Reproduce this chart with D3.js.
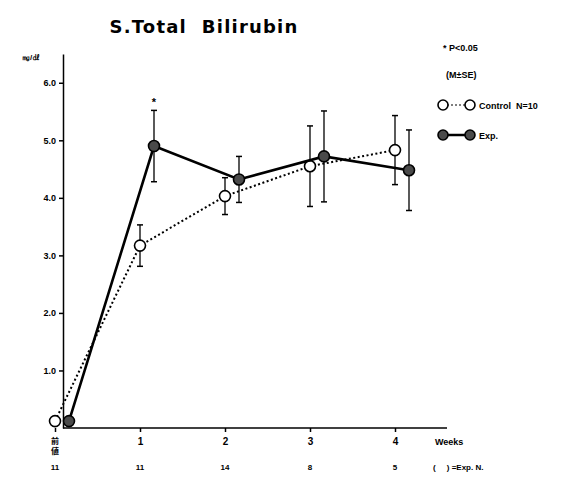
<!DOCTYPE html>
<html>
<head>
<meta charset="utf-8">
<script src="https://cdn.jsdelivr.net/npm/d3@7"></script>
<style>
  body { margin: 0; background: #fff; }
  svg { font-family: "Liberation Sans", Arial, sans-serif; font-weight: bold; }
</style>
</head>
<body>
<div id="chart"></div>
<script>
// set width/height
const WIDTH = 563;
const HEIGHT = 480;
const AXIS_X = 63;
const AXIS_Y = 428;
const DODGE = 14;

// data
const weeks = [0, 1, 2, 3, 4];
const weekLabels = ["", "1", "2", "3", "4"];
const preLabel = ["前", "値"];
const expN = ["11", "11", "14", "8", "5"];
const controlMean = [0.12, 3.17, 4.03, 4.55, 4.83];
const controlSE = [0.05, 0.36, 0.32, 0.70, 0.60];
const expMean = [0.12, 4.90, 4.32, 4.72, 4.48];
const expSE = [0, 0.62, 0.40, 0.79, 0.70];
const starWeeks = [1];
const yTicks = [1, 2, 3, 4, 5, 6];

let xScale = d3.scaleLinear().domain([0, 4]).range([55, 395]);
let yScale = d3.scaleLinear().domain([0, 6.5]).range([AXIS_Y, 54]);

let svg = d3.select("#chart").append("svg")
    .attr("width", WIDTH)
    .attr("height", HEIGHT);

// title
svg.append("text")
    .attr("x", 204).attr("y", 33)
    .attr("text-anchor", "middle")
    .attr("font-size", 18)
    .attr("letter-spacing", 1.2)
    .attr("font-family", "DejaVu Sans")
    .attr("xml:space", "preserve")
    .text("S.Total  Bilirubin");

// y axis
let yAxis = d3.axisLeft(yScale)
    .tickValues(yTicks)
    .tickFormat(d3.format(".1f"))
    .tickSize(4)
    .tickSizeOuter(0);

let gy = svg.append("g")
    .attr("transform", "translate(" + AXIS_X + ",0)")
    .call(yAxis);
gy.select(".domain").attr("stroke-width", 1.5);
gy.selectAll(".tick line").attr("stroke-width", 1.5);
gy.selectAll("text").attr("font-size", 9).attr("font-weight", "bold").attr("x", -7);

svg.append("text")
    .attr("x", 22).attr("y", 60)
    .attr("font-size", 8)
    .text("㎎/㎗");

// x axis
svg.append("line")
    .attr("x1", AXIS_X).attr("x2", 447)
    .attr("y1", AXIS_Y).attr("y2", AXIS_Y)
    .attr("stroke", "black").attr("stroke-width", 1.5);

let xAxis = d3.axisBottom(xScale)
    .tickValues(weeks)
    .tickFormat((d, i) => weekLabels[i])
    .tickSize(4)
    .tickSizeOuter(0);

let gx = svg.append("g")
    .attr("transform", "translate(0," + AXIS_Y + ")")
    .call(xAxis);
gx.select(".domain").remove();
gx.selectAll(".tick line").attr("stroke-width", 1.5);
gx.selectAll(".tick text").filter(d => d === 0).remove();
gx.selectAll("text").attr("font-size", 10).attr("font-weight", "bold").attr("y", 10);

// pre-value label, stacked
svg.selectAll(".pre")
    .data(preLabel)
    .join("text")
    .attr("class", "pre")
    .attr("x", xScale(0))
    .attr("y", (d, i) => 444 + i * 10)
    .attr("text-anchor", "middle")
    .attr("font-size", 8)
    .attr("font-family", "Noto Sans CJK JP")
    .text(d => d);

svg.append("text")
    .attr("x", 435).attr("y", 445)
    .attr("font-size", 9)
    .text("Weeks");

// Exp. N row
svg.selectAll(".nlab")
    .data(weeks)
    .join("text")
    .attr("class", "nlab")
    .attr("x", d => xScale(d))
    .attr("y", 470)
    .attr("text-anchor", "middle")
    .attr("font-size", 8)
    .text((d, i) => expN[i]);

svg.append("text")
    .attr("x", 433).attr("y", 470)
    .attr("font-size", 8)
    .attr("xml:space", "preserve")
    .text("(     ) =Exp. N.");

// series
const series = [
    { mean: controlMean, se: controlSE, dx: 0, fill: "white", dash: "2,2.5", width: 2 },
    { mean: expMean, se: expSE, dx: DODGE, fill: "#4a4a4a", dash: null, width: 2.6 }
];

let line = d3.line()
    .x(d => d.x)
    .y(d => yScale(d.m));

series.forEach(s => {
    let pts = weeks.map((w, i) => ({ x: xScale(w) + s.dx, m: s.mean[i], e: s.se[i] }));

    svg.append("path")
        .datum(pts)
        .attr("d", line)
        .attr("fill", "none")
        .attr("stroke", "black")
        .attr("stroke-width", s.width)
        .attr("stroke-dasharray", s.dash);

    let err = svg.append("g").selectAll("g")
        .data(pts.filter(d => d.e > 0.1))
        .join("g");
    err.append("line")
        .attr("x1", d => d.x).attr("x2", d => d.x)
        .attr("y1", d => yScale(d.m + d.e)).attr("y2", d => yScale(d.m - d.e))
        .attr("stroke", "black").attr("stroke-width", 1.3);
    err.append("line")
        .attr("x1", d => d.x - 3).attr("x2", d => d.x + 3)
        .attr("y1", d => yScale(d.m + d.e)).attr("y2", d => yScale(d.m + d.e))
        .attr("stroke", "black").attr("stroke-width", 1.5);
    err.append("line")
        .attr("x1", d => d.x - 3).attr("x2", d => d.x + 3)
        .attr("y1", d => yScale(d.m - d.e)).attr("y2", d => yScale(d.m - d.e))
        .attr("stroke", "black").attr("stroke-width", 1.5);

    svg.append("g").selectAll("circle")
        .data(pts)
        .join("circle")
        .attr("cx", d => d.x)
        .attr("cy", d => yScale(d.m))
        .attr("r", 5.5)
        .attr("fill", s.fill)
        .attr("stroke", "black")
        .attr("stroke-width", 1.6);
});

// significance star
svg.selectAll(".star")
    .data(starWeeks)
    .join("text")
    .attr("class", "star")
    .attr("x", d => xScale(d) + DODGE)
    .attr("y", d => yScale(expMean[d] + expSE[d]) - 4)
    .attr("text-anchor", "middle")
    .attr("font-size", 11)
    .text("*");

// legend
svg.append("text").attr("x", 443).attr("y", 51).attr("font-size", 9).text("* P<0.05");
svg.append("text").attr("x", 446).attr("y", 78).attr("font-size", 9).text("(M±SE)");

const legendRows = [
    { y: 105, fill: "white", dash: "2,2", label: "Control  N=10" },
    { y: 135, fill: "#4a4a4a", dash: null, label: "Exp." }
];
legendRows.forEach(r => {
    svg.append("line")
        .attr("x1", 443).attr("x2", 470)
        .attr("y1", r.y).attr("y2", r.y)
        .attr("stroke", "black")
        .attr("stroke-width", r.dash ? 1.2 : 2.5)
        .attr("stroke-dasharray", r.dash);
    [443, 470].forEach(cx => {
        svg.append("circle")
            .attr("cx", cx).attr("cy", r.y).attr("r", 5)
            .attr("fill", r.fill).attr("stroke", "black").attr("stroke-width", 1.6);
    });
    svg.append("text")
        .attr("x", 479).attr("y", r.y + 3.5)
        .attr("font-size", 9)
        .attr("xml:space", "preserve")
        .text(r.label);
});
</script>
</body>
</html>
